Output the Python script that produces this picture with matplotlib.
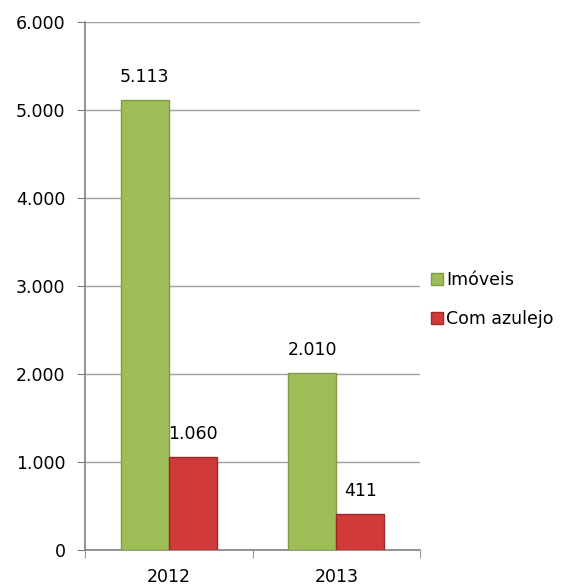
import matplotlib.pyplot as plt
import numpy as np
from matplotlib.ticker import FuncFormatter

plt.rcParams.update({'font.family': ['DejaVu Sans'], 'font.size': 12.5})

years = ['2012', '2013']
imoveis = [5113, 2010]
azulejo = [1060, 411]
series_names = ['Imóveis', 'Com azulejo']
colors = ['#9DBE57', '#D03A38']
edges = ['#7F9B45', '#9E2A28']

def fmt(v, _=None):
    return f'{int(v):,}'.replace(',', '.')

fig = plt.figure(figsize=(5.86, 5.86), dpi=100)
ax = fig.add_axes([0.145, 0.0614, 0.572, 0.9006])

x = np.arange(len(years))
w = 0.287
for i, (vals, name) in enumerate(zip([imoveis, azulejo], series_names)):
    pos = x + (i - 0.5) * w
    bars = ax.bar(pos, vals, width=w, color=colors[i], edgecolor=edges[i], linewidth=1, label=name, zorder=3)
    for b, v in zip(bars, vals):
        ax.annotate(fmt(v), (b.get_x() + b.get_width() / 2, v), xytext=(0, 10), textcoords='offset points',
                    ha='center', va='bottom', fontsize=12.5, color='#000000')

ax.set_xlim(-0.5, 1.5)
ax.set_ylim(0, 6000)
ax.set_yticks(range(0, 6001, 1000))
ax.yaxis.set_major_formatter(FuncFormatter(fmt))
ax.set_xticks(x)
ax.set_xticklabels(years)
ax.set_xticks([-0.5, 0.5, 1.5], minor=True)
ax.tick_params(axis='x', which='major', length=0, pad=13)
ax.tick_params(axis='x', which='minor', length=6, color='#808080', direction='out')
ax.tick_params(axis='y', length=6, color='#808080', direction='out', pad=8)
ax.grid(axis='y', color='#A0A0A0', linewidth=1, zorder=0)
for s in ['top', 'right']:
    ax.spines[s].set_visible(False)
for s in ['left', 'bottom']:
    ax.spines[s].set_color('#808080')
    ax.spines[s].set_linewidth(1.2)

ax.legend(loc='center left', bbox_to_anchor=(1.0, 0.475), frameon=False, fontsize=12.5,
          handlelength=0.7, handleheight=0.7, handletextpad=0.2, labelspacing=1.2, borderaxespad=0.2)

fig.savefig('out.png', dpi=100)
